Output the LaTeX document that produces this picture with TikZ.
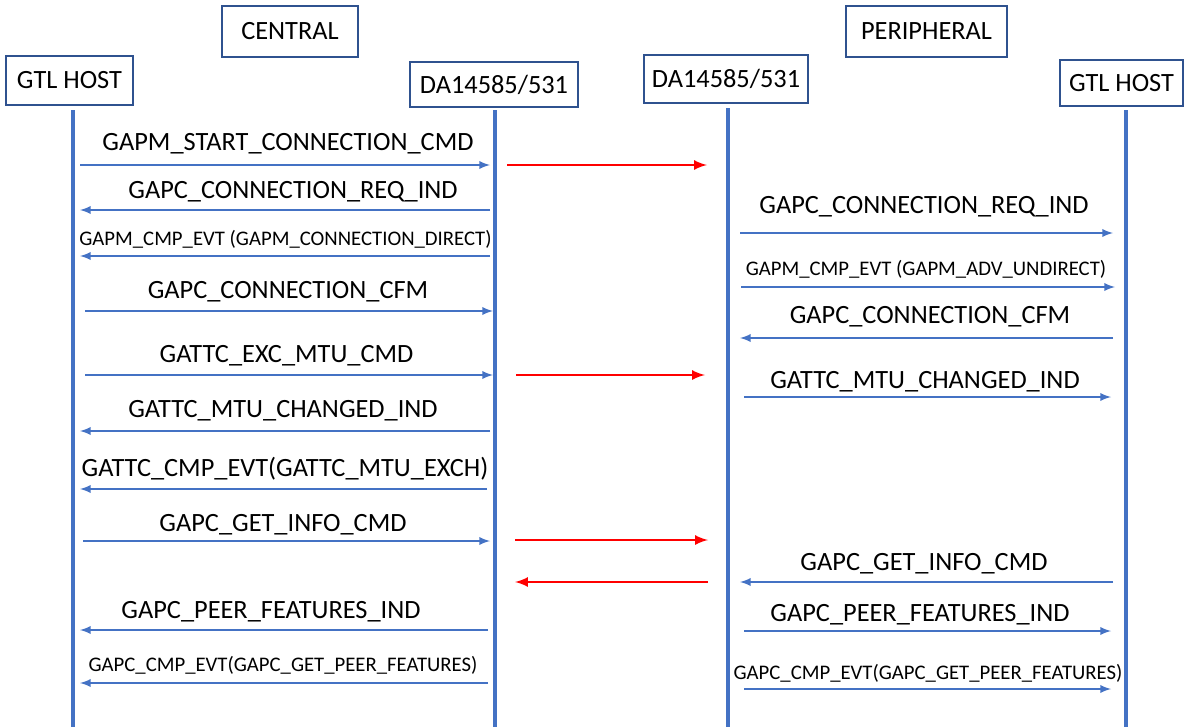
\documentclass[tikz,border=0pt]{standalone}
\usepackage{fontspec}
\setmainfont{Carlito}
\tikzstyle{chart} = [x = 0.02cm, y = -0.02cm]
\definecolor{lineColor}{RGB}{68,114,196}
\definecolor{boxColor}{RGB}{47,82,143}
\tikzstyle{roleBox} = [draw=boxColor, line width=0.9pt, fill=white, inner sep=0, font=\fontsize{15}{18}\selectfont]
\tikzstyle{lifeLine} = [color=lineColor, line width=2.2pt]
\tikzstyle{msgArrow} = [color=lineColor, line width=1.1pt, -latex]
\tikzstyle{airArrow} = [color=red, line width=1.5pt, -latex]
\tikzstyle{bigText} = [font=\fontsize{15}{18}\selectfont, inner sep=0, yshift=-0.04cm]
\tikzstyle{smallText} = [font=\fontsize{11.8}{14}\selectfont, inner sep=0, yshift=-0.03cm]
\newcommand{\headBox}[7]{\node [roleBox, minimum width=#5*0.02cm, minimum height=#6*0.02cm] (#1) at (#2,#3) {#7};}
\newcommand{\lifeLine}[3]{
  \coordinate (#1Top) at (#2,#3);
  \coordinate (#1End) at (#2,727);
  \draw [lifeLine] (#1Top) -- (#1End);
}
\newcommand{\msg}[8]{
  \coordinate (#1From) at (#3,#2);
  \coordinate (#1To) at (#4,#2);
  \draw [msgArrow] (#1From) -- (#1To);
  \node [#5] (#1Label) at (#6,#7) {#8};
}
\newcommand{\airMsg}[4]{
  \coordinate (#1From) at (#3,#2);
  \coordinate (#1To) at (#4,#2);
  \draw [airArrow] (#1From) -- (#1To);
}

\begin{document}
\begin{tikzpicture}[chart]
  \useasboundingbox (0,0) rectangle (1184,727);

  % lifelines
  \lifeLine{hostL}{73}{110}
  \lifeLine{devL}{495}{110}
  \lifeLine{devR}{728}{108}
  \lifeLine{hostR}{1126}{110}

  % heads
  \headBox{hostLBox}{69.5}{80.5}{}{127}{49}{GTL HOST}
  \headBox{centralBox}{290}{31.5}{}{136}{51}{CENTRAL}
  \headBox{devLBox}{494}{84.5}{}{168}{45}{DA14585/531}
  \headBox{devRBox}{726}{79}{}{164}{48}{DA14585/531}
  \headBox{periphBox}{926.5}{31.5}{}{161}{51}{PERIPHERAL}
  \headBox{hostRBox}{1121.5}{83}{}{123}{46}{GTL HOST}

  % central side
  \msg{startConn}{165}{80}{490}{bigText}{288}{142}{GAPM\_START\_CONNECTION\_CMD}
  \msg{connReqL}{210}{490}{80}{bigText}{293}{190}{GAPC\_CONNECTION\_REQ\_IND}
  \msg{cmpDirect}{256}{490}{80}{smallText}{285.5}{238}{GAPM\_CMP\_EVT (GAPM\_CONNECTION\_DIRECT)}
  \msg{connCfmL}{311}{85}{493}{bigText}{288}{290}{GAPC\_CONNECTION\_CFM}
  \msg{mtuCmd}{375}{85}{493}{bigText}{286.5}{354}{GATTC\_EXC\_MTU\_CMD}
  \msg{mtuIndL}{431}{490}{80}{bigText}{283}{409}{GATTC\_MTU\_CHANGED\_IND}
  \msg{mtuExch}{489}{487}{80}{bigText}{285}{467}{GATTC\_CMP\_EVT(GATTC\_MTU\_EXCH)}
  \msg{infoCmdL}{541}{83}{490}{bigText}{283}{523}{GAPC\_GET\_INFO\_CMD}
  \msg{featIndL}{630}{488}{80}{bigText}{271}{610}{GAPC\_PEER\_FEATURES\_IND}
  \msg{featCmpL}{683}{488}{80}{smallText}{283}{664}{GAPC\_CMP\_EVT(GAPC\_GET\_PEER\_FEATURES)}

  % over the air
  \airMsg{airConn}{165}{507}{707}
  \airMsg{airMtu}{375}{516}{705}
  \airMsg{airInfo}{540}{515}{708}
  \airMsg{airFeat}{582}{708}{515}

  % peripheral side
  \msg{connReqR}{233}{740}{1113}{bigText}{924}{205}{GAPC\_CONNECTION\_REQ\_IND}
  \msg{cmpUndirect}{287}{741}{1115}{smallText}{926}{268}{GAPM\_CMP\_EVT (GAPM\_ADV\_UNDIRECT)}
  \msg{connCfmR}{338}{1113}{740}{bigText}{930}{315}{GAPC\_CONNECTION\_CFM}
  \msg{mtuIndR}{397}{744}{1111}{bigText}{925}{380}{GATTC\_MTU\_CHANGED\_IND}
  \msg{infoCmdR}{582}{1113}{740}{bigText}{924}{562}{GAPC\_GET\_INFO\_CMD}
  \msg{featIndR}{631}{744}{1111}{bigText}{920}{613}{GAPC\_PEER\_FEATURES\_IND}
  \msg{featCmpR}{689}{744}{1111}{smallText}{928}{672}{GAPC\_CMP\_EVT(GAPC\_GET\_PEER\_FEATURES)}
\end{tikzpicture}
\end{document}
